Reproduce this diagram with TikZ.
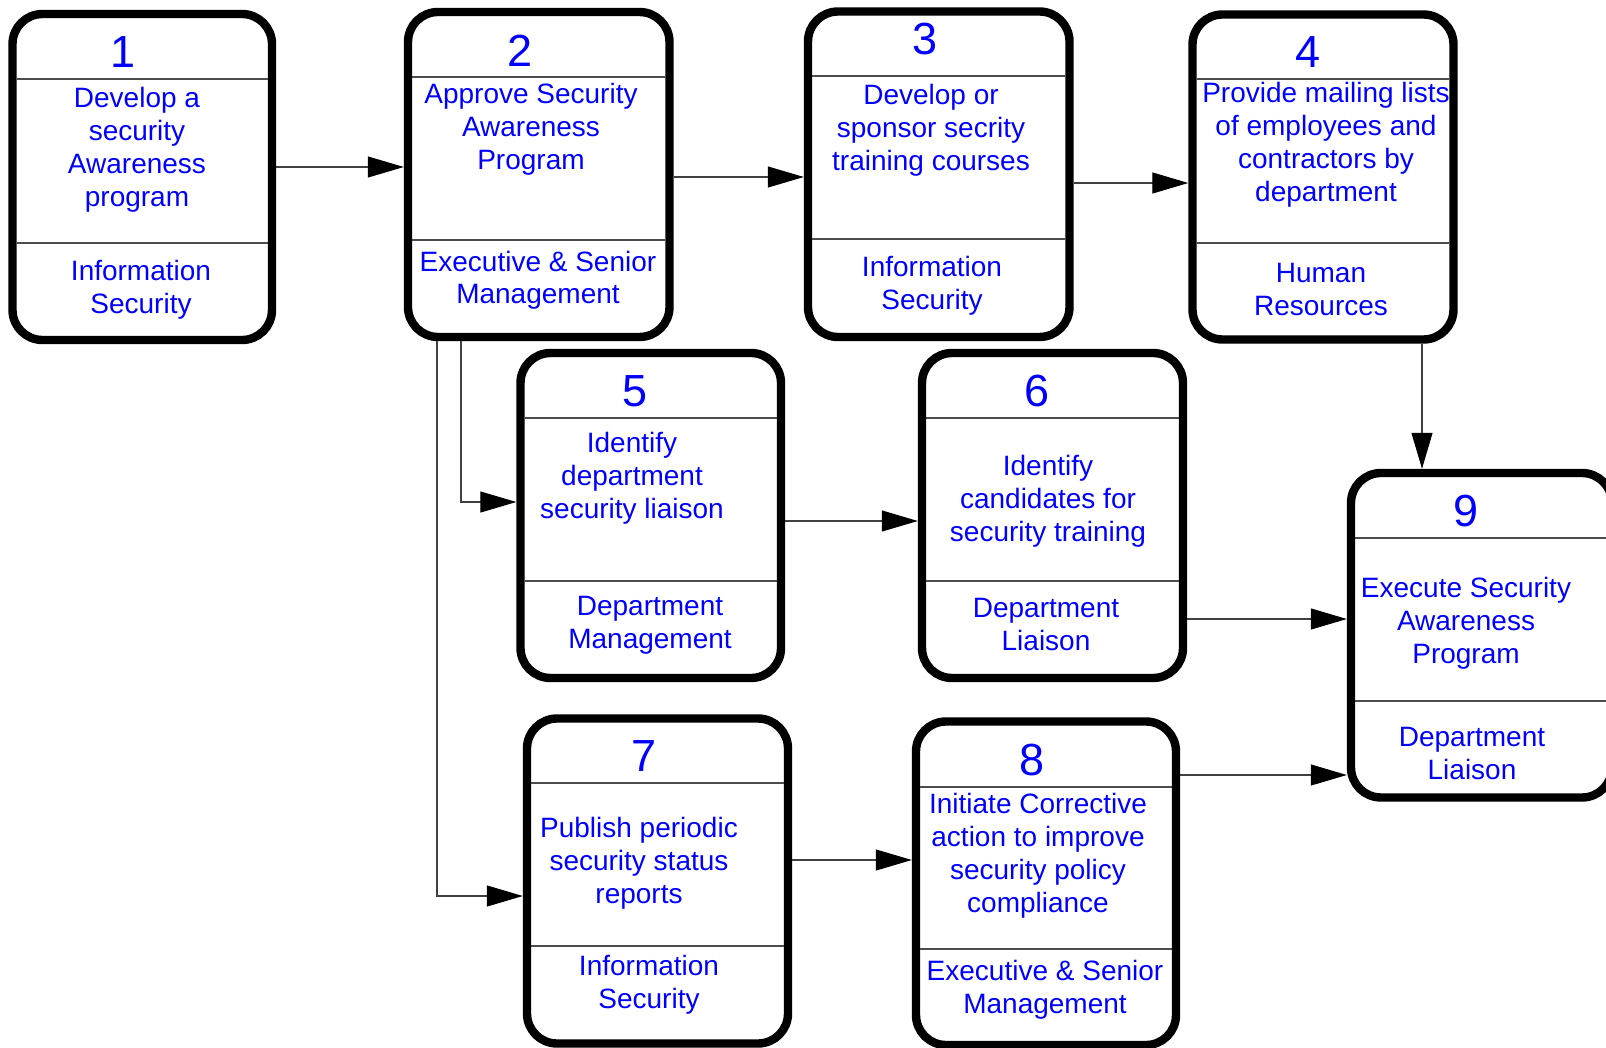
\documentclass[tikz,border=0pt]{standalone}
\usepackage{fontspec}
\setmainfont{Liberation Sans}
\usetikzlibrary{arrows.meta,fit}

% centred lines whose baseline is the baseline of the first line
\newcommand\textlines[1]{\begin{tabular}[t]{@{}c@{}}#1\end{tabular}}

% process box: name, left, top, right, bottom, first divider y, second divider y
\newcommand\procbox[7]{%
  \node[pbox, fit={(#2,#3) (#4,#5)}] (#1) {};
  \draw[divider] (#1.west |- 0,#6) -- (#1.east |- 0,#6);
  \draw[divider] (#1.west |- 0,#7) -- (#1.east |- 0,#7);
}

\begin{document}
\begin{tikzpicture}[x=0.5pt,y=-0.5pt,
  pbox/.style={draw=black, line width=4.2pt, fill=white, rounded corners=15pt,
    inner sep=0pt, outer sep=0pt},
  divider/.style={draw=black!70, line width=0.6pt, shorten <=2.1pt, shorten >=2.1pt},
  conn/.style={draw=black!75, line width=0.55pt,
    -{Triangle[length=18pt,width=10.5pt,color=black]},
    shorten <=2.1pt, shorten >=2.1pt},
  num/.style={anchor=base, text=blue, inner sep=0pt,
    font=\fontsize{22.5}{27}\selectfont},
  lbl/.style={anchor=base, text=blue, inner sep=0pt,
    font=\fontsize{14}{16.5}\selectfont}]

\useasboundingbox (0,0) rectangle (1606,1048);
\fill[white] (0,0) rectangle (1606,1048);
\clip (0,0) rectangle (1606,1048);

% boxes
\procbox{b1}{12.5}{14}{272}{340}{79}{243}
\procbox{b2}{408}{12}{669.5}{337}{77}{240}
\procbox{b3}{808}{11.5}{1069.5}{337}{76}{239}
\procbox{b4}{1192.5}{14.5}{1453.5}{339.5}{79}{243}
\procbox{b5}{520.5}{353}{781}{678}{418}{581}
\procbox{b6}{922}{353}{1183}{678}{418}{581}
\procbox{b7}{527}{718.5}{788}{1043.5}{783}{946}
\procbox{b8}{916}{721.5}{1176}{1045}{787}{949}
\procbox{b9}{1351}{473}{1612}{797.5}{538}{701}

% step numbers
\node[num] (n1) at (123,68) {1};
\node[num] (n2) at (520,67) {2};
\node[num] (n3) at (925,55) {3};
\node[num] (n4) at (1308,68) {4};
\node[num] (n5) at (635,406) {5};
\node[num] (n6) at (1037,406) {6};
\node[num] (n7) at (644,771) {7};
\node[num] (n8) at (1032,775) {8};
\node[num] (n9) at (1466,526) {9};

% activities
\node[lbl] (t1) at (137,108) {\textlines{Develop a\\security\\Awareness\\program}};
\node[lbl] (t2) at (531,104) {\textlines{Approve Security\\Awareness\\Program}};
\node[lbl] (t3) at (931,105) {\textlines{Develop or\\sponsor secrity\\training courses}};
\node[lbl] (t4) at (1326,103) {\textlines{Provide mailing lists\\of employees and\\contractors by\\department}};
\node[lbl] (t5) at (632,452) {\textlines{Identify\\department\\security liaison}};
\node[lbl] (t6) at (1048,475) {\textlines{Identify\\candidates for\\security training}};
\node[lbl] (t7) at (639,837) {\textlines{Publish periodic\\security status\\reports}};
\node[lbl] (t8) at (1038,813) {\textlines{Initiate Corrective\\action to improve\\security policy\\compliance}};
\node[lbl] (t9) at (1466,597) {\textlines{Execute Security\\Awareness\\Program}};

% responsible parties
\node[lbl] (r1) at (141,281) {\textlines{Information\\Security}};
\node[lbl] (r2) at (538,271) {\textlines{Executive \& Senior\\Management}};
\node[lbl] (r3) at (932,277) {\textlines{Information\\Security}};
\node[lbl] (r4) at (1321,283) {\textlines{Human\\Resources}};
\node[lbl] (r5) at (650,615) {\textlines{Department\\Management}};
\node[lbl] (r6) at (1046,617) {\textlines{Department\\Liaison}};
\node[lbl] (r7) at (649,975) {\textlines{Information\\Security}};
\node[lbl] (r8) at (1045,980) {\textlines{Executive \& Senior\\Management}};
\node[lbl] (r9) at (1472,746) {\textlines{Department\\Liaison}};

% flow
\draw[conn] (b1.east |- 0,167) -- (b2.west |- 0,167);
\draw[conn] (b2.east |- 0,177) -- (b3.west |- 0,177);
\draw[conn] (b3.east |- 0,183) -- (b4.west |- 0,183);
\draw[conn] (1422,0 |- b4.south) -- (1422,0 |- b9.north);
\draw[conn] (461,0 |- b2.south) |- (b5.west |- 0,502);
\draw[conn] (437,0 |- b2.south) |- (b7.west |- 0,896);
\draw[conn] (b5.east |- 0,521) -- (b6.west |- 0,521);
\draw[conn] (b6.east |- 0,619) -- (b9.west |- 0,619);
\draw[conn] (b7.east |- 0,860) -- (b8.west |- 0,860);
\draw[conn] (b8.east |- 0,775) -- (b9.west |- 0,775);
\end{tikzpicture}
\end{document}
